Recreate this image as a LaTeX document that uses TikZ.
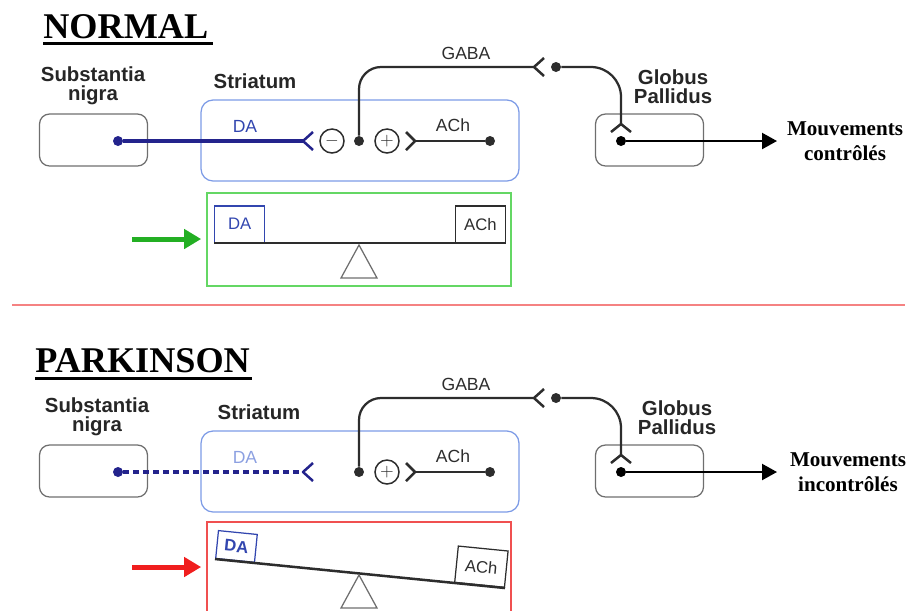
\documentclass[tikz,border=0pt]{standalone}
\usepackage{fontspec}
\setmainfont{Liberation Serif}
\newfontfamily\arialf{Liberation Sans}
\usetikzlibrary{arrows.meta}
\definecolor{navyda}{RGB}{35,35,140}
\definecolor{blueda}{RGB}{50,70,175}
\definecolor{palda}{RGB}{140,160,225}
\definecolor{strblue}{RGB}{125,155,230}
\definecolor{boxgray}{RGB}{110,110,110}
\definecolor{wire}{RGB}{45,45,45}
\definecolor{okgreen}{RGB}{100,215,100}
\definecolor{arrgreen}{RGB}{35,175,35}
\definecolor{badred}{RGB}{240,80,80}
\definecolor{sepred}{RGB}{245,130,130}
\definecolor{arrred}{RGB}{240,30,30}

\begin{document}
\begin{tikzpicture}[x=0.02cm,y=-0.02cm,
    region/.style={draw=boxgray,line width=0.025cm,rounded corners=0.2cm,minimum width=2.16cm,minimum height=1.04cm},
    strbox/.style={draw=strblue,line width=0.025cm,rounded corners=0.24cm,minimum width=6.36cm,minimum height=1.62cm},
    reglab/.style={font=\arialf\fontsize{11.6}{10.6}\selectfont\bfseries,text=black!85,align=center,inner sep=0pt},
    title/.style={font=\fontsize{20.6}{24}\selectfont\bfseries,anchor=base west,inner sep=0pt},
    mvt/.style={font=\fontsize{12}{14.2}\selectfont\bfseries,align=center,inner sep=0pt},
    small/.style={font=\arialf\fontsize{10}{12}\selectfont,inner sep=0pt},
    dot/.style={circle,fill,inner sep=0pt,minimum size=0.2cm},
    sign/.style={circle,draw=wire,text=wire,line width=0.03cm,inner sep=0pt,minimum size=0.48cm,font=\fontsize{10}{10}\selectfont},
    wireline/.style={wire,line width=0.055cm,line join=round},
    fork/.style={line width=0.05cm,line join=round},
    balbox/.style={draw,line width=0.025cm,minimum width=1cm,minimum height=0.73cm,inner sep=0pt,font=\arialf\fontsize{9.5}{11}\selectfont},
    beam/.style={draw=wire,line width=0.05cm},
    pivot/.style={draw=boxgray,line width=0.025cm}]
  \useasboundingbox (0,0) rectangle (908,610);
  \clip (0,0) rectangle (908,610);

  \node[title] (titleN) at (43,38) {NORMAL};
  \draw[line width=0.06cm] ([yshift=-0.1cm]titleN.base west) -- ([yshift=-0.1cm,xshift=0.08cm]titleN.base east);
  \node[title] (titleP) at (35,372) {PARKINSON};
  \draw[line width=0.06cm] ([yshift=-0.12cm]titleP.base west) -- ([yshift=-0.12cm,xshift=0.04cm]titleP.base east);
  \draw[sepred,line width=0.04cm] (12,305) -- (905,305);

  % normal
  \node[region] (snN) at (93.5,140) {};
  \node[reglab] (snlabN) at (93,86) {Substantia\\nigra};
  \node[strbox] (strN) at (360,140.5) {};
  \node[reglab] (strlabN) at (255,81) {Striatum};
  \node[region] (gpN) at (649.5,140) {};
  \node[reglab] (gplabN) at (673,87) {Globus\\Pallidus};
  \node[mvt] (mvtN) at (845,141) {Mouvements\\contrôlés};

  \node[dot,navyda] (daN) at (118,141) {};
  \coordinate (daforkN) at (303,141);
  \draw[navyda,line width=0.065cm] (daN) -- (daforkN);
  \draw[navyda,fork] (daforkN) ++(10,-9) -- (daforkN) -- ++(10,9);
  \node[small,text=blueda] (dalabN) at (245,126) {DA};
  \node[sign] (minusN) at (332,141) {$-$};
  \node[dot,wire] (cholN) at (359,141) {};
  \node[sign] (plusN) at (387,141) {$+$};
  \coordinate (achforkN) at (415,141);
  \node[dot,wire] (achN) at (490,141) {};
  \draw[wireline] (achN) -- (achforkN);
  \draw[wire,fork] (achforkN) ++(-9,-9) -- (achforkN) -- ++(-9,9);
  \node[small,text=wire] (achlabN) at (453,125) {ACh};

  \coordinate (gabaforkN) at (534,67);
  \draw[wireline,line width=0.045cm,rounded corners=0.44cm] (cholN) -- (359,67) -- (gabaforkN);
  \draw[wire,fork] (gabaforkN) ++(10,-9) -- (gabaforkN) -- ++(10,9);
  \node[small,text=wire] (gabalabN) at (466,53) {GABA};
  \node[dot,wire] (gpinN) at (556,67) {};
  \coordinate (gpforkN) at (621,124);
  \draw[wireline,line width=0.045cm,rounded corners=0.6cm] (gpinN) -- (621,67) -- (gpforkN);
  \draw[wire,fork] (gpforkN) ++(-10,8) -- (gpforkN) -- ++(10,8);
  \node[dot,black] (gpoutN) at (621,141) {};
  \coordinate (mvtinN) at (777,141);
  \draw[line width=0.045cm,-{Triangle[length=0.3cm,width=0.32cm]}] (gpoutN) -- (mvtinN);

  \node[draw=okgreen,line width=0.035cm,minimum width=6.08cm,minimum height=1.86cm] (balN) at (359,239.5) {};
  \node[balbox,draw=blueda,text=blueda,anchor=south west] (dabN) at (214,243) {DA};
  \node[balbox,draw=wire,text=wire,anchor=south east] (achbN) at (506,243) {ACh};
  \draw[beam] (dabN.south west) -- (achbN.south east);
  \draw[pivot] (359,245) -- (377,278) -- (341,278) -- cycle;
  \coordinate (goN) at (132,239);
  \draw[arrgreen,line width=0.1cm,-{Triangle[length=0.34cm,width=0.38cm]}] (goN) -- ([xshift=-0.1cm]goN -| balN.west);

  % parkinson
  \begin{scope}[shift={(0,331)}]
    \node[region] (snP) at (93.5,140) {};
    \node[reglab] (snlabP) at (97,86) {Substantia\\nigra};
    \node[strbox] (strP) at (360,140.5) {};
    \node[reglab] (strlabP) at (259,81) {Striatum};
    \node[region] (gpP) at (649.5,140) {};
    \node[reglab] (gplabP) at (677,87) {Globus\\Pallidus};
    \node[mvt] (mvtP) at (848,141) {Mouvements\\incontrôlés};

    \node[dot,navyda] (daP) at (118,141) {};
    \coordinate (daforkP) at (303,141);
    \draw[navyda,line width=0.065cm,dash pattern=on 0.12cm off 0.08cm] (daP) -- (daforkP);
    \draw[navyda,fork] (daforkP) ++(10,-9) -- (daforkP) -- ++(10,9);
    \node[small,text=palda] (dalabP) at (245,126) {DA};
    \node[dot,wire] (cholP) at (359,141) {};
    \node[sign] (plusP) at (387,141) {$+$};
    \coordinate (achforkP) at (415,141);
    \node[dot,wire] (achP) at (490,141) {};
    \draw[wireline] (achP) -- (achforkP);
    \draw[wire,fork] (achforkP) ++(-9,-9) -- (achforkP) -- ++(-9,9);
    \node[small,text=wire] (achlabP) at (453,125) {ACh};

    \coordinate (gabaforkP) at (534,67);
    \draw[wireline,line width=0.045cm,rounded corners=0.44cm] (cholP) -- (359,67) -- (gabaforkP);
    \draw[wire,fork] (gabaforkP) ++(10,-9) -- (gabaforkP) -- ++(10,9);
    \node[small,text=wire] (gabalabP) at (466,53) {GABA};
    \node[dot,wire] (gpinP) at (556,67) {};
    \coordinate (gpforkP) at (621,124);
    \draw[wireline,line width=0.045cm,rounded corners=0.6cm] (gpinP) -- (621,67) -- (gpforkP);
    \draw[wire,fork] (gpforkP) ++(-10,8) -- (gpforkP) -- ++(10,8);
    \node[dot,black] (gpoutP) at (621,141) {};
    \coordinate (mvtinP) at (777,141);
    \draw[line width=0.045cm,-{Triangle[length=0.3cm,width=0.32cm]}] (gpoutP) -- (mvtinP);

    \node[draw=badred,line width=0.035cm,minimum width=6.08cm,minimum height=1.9cm] (balP) at (359,238.5) {};
    \node[balbox,draw=blueda,text=blueda,anchor=south west,rotate=-5.7,minimum width=0.78cm,minimum height=0.56cm,font=\arialf\fontsize{9.5}{11}\selectfont\bfseries] (dabP) at (215,228) {DA};
    \node[balbox,draw=wire,text=wire,anchor=south east,rotate=-5.7] (achbP) at (505,257) {ACh};
    \draw[beam] (dabP.south west) -- (achbP.south east);
    \draw[pivot] (359,244) -- (377,277) -- (341,277) -- cycle;
    \coordinate (goP) at (132,236);
    \draw[arrred,line width=0.1cm,-{Triangle[length=0.34cm,width=0.38cm]}] (goP) -- ([xshift=-0.1cm]goP -| balP.west);
  \end{scope}
\end{tikzpicture}
\end{document}
